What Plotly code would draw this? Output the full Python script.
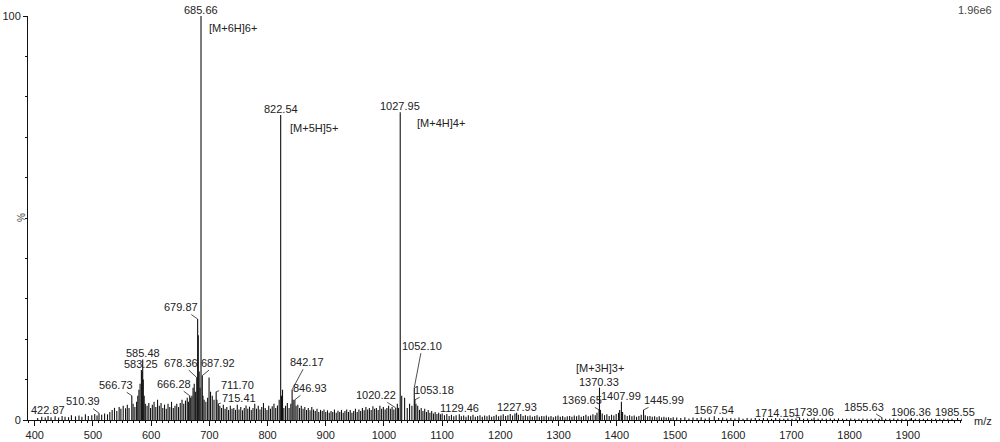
import plotly.graph_objects as go

# ---------------- data ----------------
# labelled peaks (m/z, relative intensity %)
label_mz = [685.66, 822.54, 1027.95, 679.87, 583.25, 585.48, 566.73, 666.28, 678.36,
            687.92, 711.70, 715.41, 842.17, 846.93, 422.87, 510.39, 1020.22, 1052.10,
            1053.18, 1129.46, 1227.93, 1370.33, 1369.65, 1407.99, 1445.99, 1567.54,
            1714.15, 1739.06, 1855.63, 1906.36, 1985.55]
label_int = [100.0, 75.5, 76.2, 25.0, 12.4, 15.0, 6.0, 6.0, 10.5,
             11.0, 7.0, 4.0, 7.5, 5.0, 1.0, 1.7, 3.0, 8.0,
             5.0, 1.4, 1.8, 8.0, 2.5, 4.5, 2.5, 0.9,
             0.6, 0.6, 0.6, 0.5, 0.5]
label_text = ["685.66", "822.54", "1027.95", "679.87", "583.25", "585.48", "566.73", "666.28",
              "678.36", "687.92", "711.70", "715.41", "842.17", "846.93", "422.87", "510.39",
              "1020.22", "1052.10", "1053.18", "1129.46", "1227.93", "1370.33", "1369.65",
              "1407.99", "1445.99", "1567.54", "1714.15", "1739.06", "1855.63", "1906.36",
              "1985.55"]

# charge-state annotations
ion_mz = [685.66, 822.54, 1027.95, 1370.33]
ion_text = ["[M+6H]6+", "[M+5H]5+", "[M+4H]4+", "[M+3H]3+"]

# unlabelled peaks / noise
noise_mz = [405, 412, 418, 428, 435, 441, 447, 452, 458, 463, 470, 476, 481, 487, 492, 498,
            503, 507, 515, 520, 525, 529,
            533, 537, 541, 545, 548, 552, 556, 559, 562, 569, 572, 575, 577, 579, 581, 584.5,
            586.5, 588, 590, 593, 596, 599,
            602, 605, 608, 611, 614, 617, 620, 623, 626, 629, 632, 635, 638, 641, 644, 647,
            650, 653, 656, 659, 662, 664, 668, 670, 672, 674, 676, 681.0, 682.5, 684,
            689, 691, 694, 697, 699.5, 702, 705, 708, 713, 718, 721, 724, 727, 730,
            733, 736, 739, 742, 745, 748, 751, 754, 757, 760, 763, 766, 769, 772, 775, 778,
            781, 784, 787, 790, 793, 796, 799, 802, 805, 808, 811, 814, 817, 820, 824, 825.7,
            828, 831, 834, 837, 840, 844, 849, 852, 855, 858, 861, 864, 867, 870, 873, 876,
            879, 882, 885, 888, 891, 894, 897, 900, 903, 906, 909, 912, 915, 918, 921, 924,
            927, 930, 933, 936, 939, 942, 945, 948, 951, 954, 957, 960, 963, 966, 969, 972,
            975, 978, 981, 984, 987, 990, 993, 996, 999, 1002, 1005, 1008, 1011, 1014, 1017,
            1023, 1025, 1030.5, 1035.5, 1040, 1044, 1048, 1055, 1058, 1061, 1064, 1067, 1070,
            1073, 1076, 1079, 1082, 1085, 1088, 1091, 1094, 1097, 1100,
            1104, 1108, 1112, 1116, 1120, 1124, 1133, 1137, 1141, 1145, 1149, 1153, 1157,
            1161, 1165, 1169, 1173, 1177, 1181, 1185, 1189, 1193, 1197, 1201, 1205, 1209,
            1213, 1217, 1221, 1225, 1231, 1235, 1239, 1243, 1247, 1251, 1255, 1259, 1263,
            1267, 1271, 1275, 1279, 1283, 1287, 1291, 1295, 1299, 1303, 1307, 1311, 1315,
            1319, 1323, 1327, 1331, 1335, 1339, 1343, 1347, 1351, 1355, 1359, 1363, 1366,
            1372, 1375, 1379, 1383, 1387, 1391, 1395, 1399, 1403, 1405, 1410, 1414, 1418,
            1422, 1426, 1430, 1434, 1438, 1442, 1449, 1453, 1457, 1461, 1465, 1469, 1473,
            1477, 1481, 1485, 1489, 1493, 1497,
            1503, 1510, 1517, 1524, 1531, 1538, 1545, 1552, 1559, 1575, 1582, 1589, 1596,
            1603, 1610, 1617, 1624, 1631, 1638, 1645, 1652, 1659, 1666, 1673, 1680, 1687,
            1694, 1701, 1708, 1721, 1728, 1735, 1746, 1753, 1760, 1767, 1774, 1781, 1788,
            1795, 1802, 1809, 1816, 1823, 1830, 1837, 1844, 1851, 1862, 1869, 1876, 1883,
            1890, 1897, 1904, 1913, 1920, 1927, 1934, 1941, 1948, 1955, 1962, 1969, 1976,
            1993]
noise_int = [0.5, 0.8, 0.6, 0.7, 0.9, 0.6, 1.0, 0.8, 0.7, 1.2, 0.9, 1.1, 0.8, 1.4, 1.0, 1.2,
             1.5, 1.1, 1.3, 1.6, 1.4, 2.0,
             2.5, 3.0, 2.2, 3.2, 2.8, 3.5, 2.9, 3.8, 3.0, 4.0, 3.2, 4.5, 6.0, 7.5, 9.0, 12.0,
             10.0, 6.0, 4.0, 3.5, 4.2, 3.0,
             3.8, 4.5, 3.2, 5.0, 3.5, 4.2, 3.0, 3.8, 2.8, 4.0, 3.2, 4.5, 3.0, 3.5, 4.0, 3.2,
             4.2, 5.0, 4.0, 4.8, 5.5, 4.5, 5.5, 6.0, 8.0, 9.0, 7.0, 21.0, 12.0, 8.0,
             6.0, 5.0, 4.5, 5.5, 10.5, 7.0, 6.0, 5.0, 5.0, 3.5, 3.0, 3.8, 2.8, 3.2,
             2.5, 3.5, 2.8, 3.0, 2.5, 3.8, 2.6, 3.2, 2.4, 3.0, 3.6, 2.8, 3.3, 2.5, 3.0, 4.0,
             2.8, 3.5, 2.6, 3.2, 4.2, 3.0, 2.5, 3.5, 2.8, 3.4, 4.0, 3.0, 3.6, 5.0, 6.0, 7.5,
             3.0, 3.5, 4.2, 3.0, 4.0, 5.0, 3.5, 3.8, 3.0, 3.5, 2.8, 3.2, 2.5, 3.0, 2.4, 3.2,
             2.6, 2.2, 2.8, 2.0, 2.5, 2.2, 2.6, 2.0, 2.4, 1.8, 2.2, 2.0, 2.6, 1.8, 2.3, 2.0,
             2.5, 1.8, 2.2, 2.6, 2.0, 2.5, 1.8, 2.2, 2.8, 2.0, 2.6, 2.2, 3.0, 2.4, 3.2, 2.6,
             3.0, 2.5, 3.4, 2.8, 3.0, 2.5, 3.5, 2.8, 3.2, 2.6, 3.0, 3.5, 2.8, 3.2, 2.6,
             4.0, 3.0, 6.0, 5.5, 3.0, 4.0, 3.5, 4.0, 3.5, 2.5, 3.0, 2.2, 2.8,
             2.0, 2.5, 1.8, 2.2, 1.6, 2.0, 1.5, 1.8, 1.4, 1.6,
             1.2, 1.5, 1.0, 1.3, 0.9, 1.2, 0.9, 1.1, 0.8, 1.2, 0.9, 1.3, 0.8,
             1.0, 1.2, 0.8, 1.1, 0.9, 1.2, 0.8, 1.0, 1.3, 0.9, 1.1, 1.4, 1.0,
             1.2, 1.5, 1.1, 1.6, 1.3, 1.5, 1.0, 1.2, 0.9, 1.1, 0.8, 1.0, 1.2,
             0.8, 1.0, 0.9, 1.1, 0.8, 1.0, 0.7, 0.9, 1.1, 0.8, 1.0, 0.7, 0.9,
             1.0, 0.8, 1.1, 0.9, 1.2, 0.8, 1.0, 1.3, 0.9, 1.1, 1.4, 1.2, 1.8,
             2.5, 1.6, 1.2, 1.4, 1.0, 1.3, 1.1, 1.5, 1.8, 2.5, 2.0, 1.3, 1.0,
             1.2, 0.9, 1.1, 0.8, 1.0, 1.3, 1.2, 0.9, 1.0, 0.8, 0.9, 0.7, 0.9,
             0.6, 0.8, 0.6, 0.7, 0.5, 0.7,
             0.6, 0.5, 0.7, 0.4, 0.6, 0.5, 0.7, 0.4, 0.6, 0.5, 0.6, 0.4, 0.5,
             0.4, 0.6, 0.3, 0.5, 0.4, 0.5, 0.3, 0.5, 0.4, 0.3, 0.5, 0.4, 0.3,
             0.4, 0.3, 0.4, 0.3, 0.4, 0.3, 0.3, 0.4, 0.3, 0.4, 0.3, 0.4, 0.3,
             0.3, 0.4, 0.3, 0.3, 0.4, 0.3, 0.3, 0.4, 0.3, 0.3, 0.3, 0.4, 0.3,
             0.3, 0.3, 0.3, 0.3, 0.3, 0.3, 0.3, 0.3, 0.3, 0.3, 0.3, 0.3, 0.3,
             0.3]

x_ticks = [400, 500, 600, 700, 800, 900, 1000, 1100, 1200, 1300, 1400, 1500, 1600,
           1700, 1800, 1900]

# --------------- build sticks ---------------
all_mz = list(noise_mz) + list(label_mz)
all_int = list(noise_int) + list(label_int)
sx, sy = [], []
for m, v in zip(all_mz, all_int):
    sx += [m, m, None]
    sy += [0, v, None]

FONT = "Liberation Sans, Arial, sans-serif"
fig = go.Figure()
fig.add_trace(go.Scatter(x=sx, y=sy, mode="lines",
                         line=dict(color="#111111", width=1.1),
                         hoverinfo="skip", showlegend=False))

# label placement: (ax, ay) pixel offsets for leader labels, None = directly above
offsets = {
    "679.87": (-17, -12), "566.73": (-16, -11), "666.28": (-16, -12),
    "678.36": (-16, -15), "687.92": (16, -13), "711.70": (21, -7),
    "715.41": (21, -6), "842.17": (15, -28), "846.93": (15, -12),
    "510.39": (-16, -12), "1020.22": (-20, -13), "1052.10": (8, -42),
    "1053.18": (19, -10), "1369.65": (-17, -10), "1445.99": (20, -10),
    "1714.15": (-25, -5), "1855.63": (-18, -11),
}
ann = []
for m, v, t in zip(label_mz, label_int, label_text):
    if t in offsets:
        ax, ay = offsets[t]
        ann.append(dict(x=m, y=v, xref="x", yref="y", text=t, showarrow=True,
                        ax=ax, ay=ay, arrowhead=0, arrowwidth=0.8, arrowcolor="#222",
                        standoff=0, font=dict(size=11, color="#222", family=FONT)))
    else:
        ann.append(dict(x=m, y=v, xref="x", yref="y", text=t, showarrow=False,
                        yanchor="bottom", yshift=-2,
                        xshift=-3 if t == "1985.55" else 0,
                        font=dict(size=11, color="#222", family=FONT)))

ion_pos = {"[M+6H]6+": (6, -12, "left", "middle"), "[M+5H]5+": (7, -13, "left", "middle"),
           "[M+4H]4+": (15, -11, "left", "middle"), "[M+3H]3+": (1, 12, "center", "bottom")}
for m, t in zip(ion_mz, ion_text):
    v = label_int[label_mz.index(m)]
    xs, ys, xa, ya = ion_pos[t]
    ann.append(dict(x=m, y=v, xref="x", yref="y", text=t, showarrow=False,
                    xanchor=xa, yanchor=ya, xshift=xs, yshift=ys,
                    font=dict(size=11, color="#222", family=FONT)))

ann.append(dict(x=1, y=0, xref="paper", yref="paper", text="m/z", showarrow=False,
                xanchor="left", yanchor="middle", xshift=10, yshift=-1,
                font=dict(size=11, color="#222", family=FONT)))
ann.append(dict(x=1, y=1, xref="paper", yref="paper", text="1.96e6", showarrow=False,
                xanchor="center", yanchor="middle", xshift=13, yshift=6,
                font=dict(size=11, color="#444", family=FONT)))
ann.append(dict(x=0, y=50, xref="paper", yref="y", text="%", showarrow=False,
                xanchor="center", yanchor="middle", xshift=-7, textangle=-90,
                font=dict(size=10, color="#444", family=FONT)))

fig.update_layout(
    width=1000, height=442,
    margin=dict(l=28, r=38, t=16, b=22, autoexpand=False),
    plot_bgcolor="white", paper_bgcolor="white",
    annotations=ann,
    xaxis=dict(range=[388.4, 1993.2], showline=True, linecolor="#111", linewidth=1,
               automargin=False,
               tickvals=x_ticks, ticks="outside", ticklen=5, tickcolor="#111",
               minor=dict(dtick=10, tick0=400, ticks="outside", ticklen=2, tickcolor="#111"),
               showgrid=False, zeroline=False,
               tickfont=dict(size=11, color="#222", family=FONT)),
    yaxis=dict(range=[0, 100], showline=True, linecolor="#111", linewidth=1,
               automargin=False,
               tickvals=[0, 100], ticks="outside", ticklen=4, tickcolor="#111",
               minor=dict(dtick=10, tick0=0, ticks="outside", ticklen=2, tickcolor="#111"),
               showgrid=False, zeroline=False,
               tickfont=dict(size=11, color="#222", family=FONT)),
)

fig.write_html("out.html")
